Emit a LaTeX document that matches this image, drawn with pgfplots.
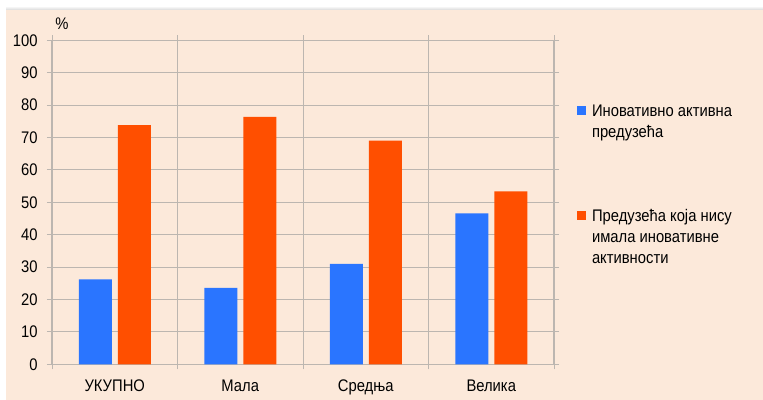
\documentclass[border=0pt]{standalone}
\usepackage{fontspec}
\setmainfont{Liberation Sans}[FakeStretch=0.88]
\usepackage{pgfplots}
\pgfplotsset{compat=1.18}
\definecolor{peach}{RGB}{252,233,218}
\definecolor{gridc}{RGB}{188,182,176}
\definecolor{barblue}{RGB}{42,117,255}
\definecolor{barorange}{RGB}{255,79,0}
\newcommand{\lines}[1]{\vtop{\baselineskip=21bp\halign{##\hfil\cr#1\crcr}}}
\begin{document}
\begin{tikzpicture}[font=\fontsize{16.8bp}{21bp}\selectfont]
\useasboundingbox (0bp,0bp) rectangle (763bp,400bp);
\fill[white] (0bp,0bp) rectangle (763bp,400bp);
\shade[top color=white,bottom color=black!15] (6bp,390bp) rectangle (763bp,394bp);
\fill[peach] (6bp,0bp) rectangle (763bp,390bp);
\begin{axis}[
  at={(52bp,35.7bp)}, anchor=south west,
  scale only axis, width=502bp, height=324bp,
  ybar=6bp, bar width=33bp,
  xmin=-0.5, xmax=3.5, ymin=0, ymax=100,
  ytick={0,10,...,100},
  xtick={-0.5,0.5,1.5,2.5,3.5}, xticklabels={},
  extra x ticks={0,1,2,3},
  extra x tick labels={УКУПНО,Мала,Средња,Велика},
  extra x tick style={major tick length=0pt, grid=none,
     xticklabel style={text height=11.8bp, text depth=3bp, yshift=-12bp}},
  xmajorgrids, ymajorgrids,
  grid style={gridc, line width=1bp},
  axis line style={gridc, line width=1.2bp},
  tick style={gridc, line width=1bp},
  tick align=outside, major tick length=5bp,
  /pgf/number format/assume math mode=true,
  yticklabel style={xshift=-6bp},
  legend style={draw=none, fill=none, at={(1.0458,0.80)}, anchor=north west,
     inner sep=0pt, outer sep=0pt, row sep=91bp,
     cells={anchor=base west},
     nodes={inner sep=0pt},
     /tikz/column 1/.style={column sep=6bp}},
  legend image code/.code={\fill[#1] (0bp,1.5bp) rectangle (9bp,10.5bp);},
]
\addplot[fill=barblue, draw=none] coordinates {(0,26.2) (1,23.6) (2,31.0) (3,46.6)};
\addlegendentry{\lines{Иновативно активна\cr предузећа}}
\addplot[fill=barorange, draw=none] coordinates {(0,73.8) (1,76.4) (2,69.0) (3,53.4)};
\addlegendentry{\lines{Предузећа која нису\cr имала иновативне\cr активности}}
\end{axis}
\node at (62bp,376bp) {\%};
\end{tikzpicture}
\end{document}
